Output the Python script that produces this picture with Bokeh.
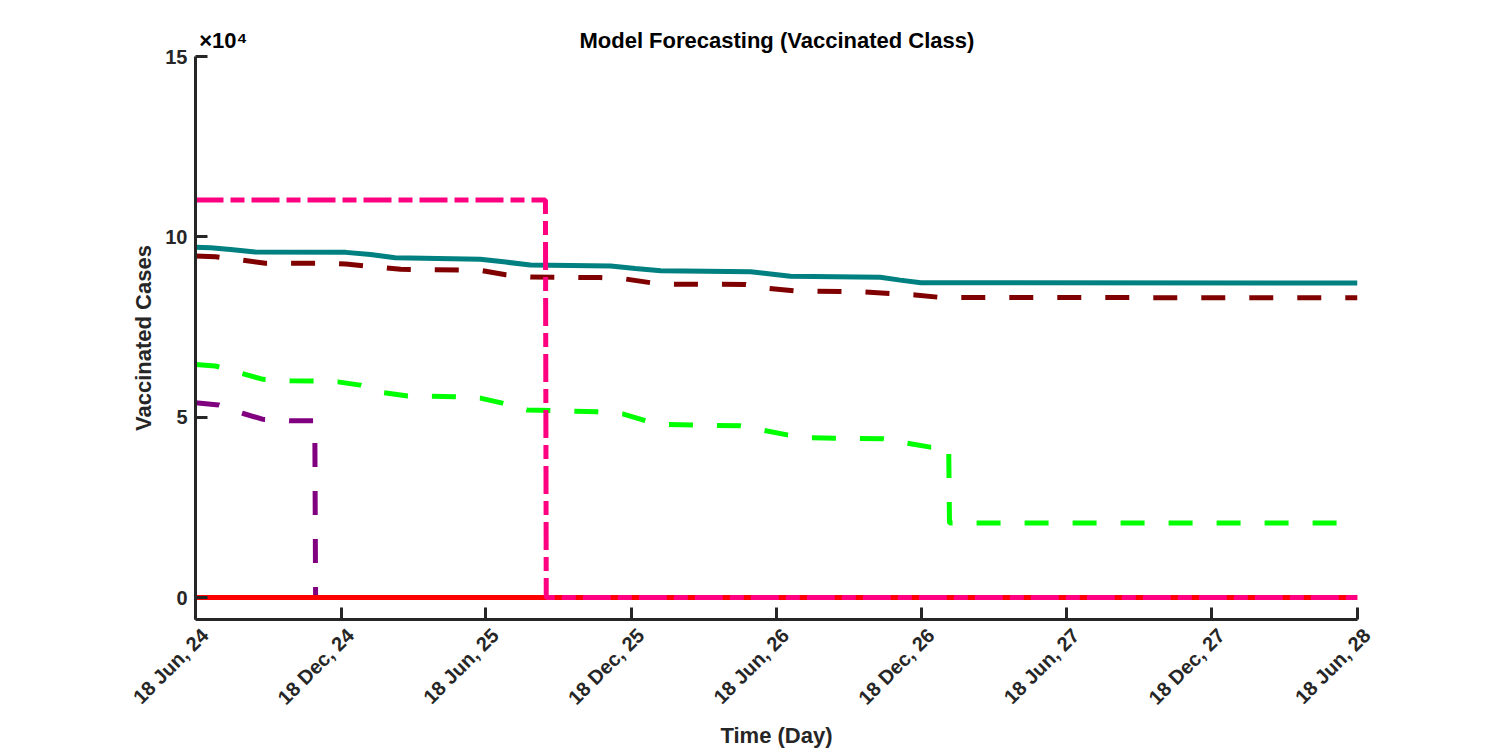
from math import pi
from bokeh.plotting import figure
from bokeh.models import Range1d, FixedTicker, LinearAxis
from bokeh.embed import file_html
from bokeh.resources import INLINE

# ---- data (x = days since 18 Jun 2024, y = cases) ----
tick_days = [0, 183, 365, 548, 730, 913, 1095, 1278, 1461]
tick_labels = ["18 Jun, 24", "18 Dec, 24", "18 Jun, 25", "18 Dec, 25", "18 Jun, 26",
               "18 Dec, 26", "18 Jun, 27", "18 Dec, 27", "18 Jun, 28"]
y_ticks = [0, 50000, 100000, 150000]
y_tick_labels = ["0", "5", "10", "15"]
title_text = "Model Forecasting (Vaccinated Class)"
exponent_text = "×10⁴"

teal_days = [0, 19, 44, 75, 189, 220, 251, 358, 390, 421, 522, 553, 585, 698, 723, 748, 861, 886, 912, 1461]
teal_vals = [97100, 97000, 96500, 95800, 95700, 95100, 94200, 93800, 93000, 92200, 91900, 91200,
             90600, 90300, 89700, 89100, 88800, 88000, 87300, 87200]

maroon_days = [0, 25, 57, 88, 157, 189, 220, 258, 333, 358, 390, 421, 509, 541, 572, 597, 692, 717,
               754, 836, 874, 905, 937, 1461]
maroon_vals = [94700, 94500, 93600, 92700, 92700, 92500, 91800, 91000, 90800, 90700, 89500, 88900,
               88700, 88300, 87300, 86900, 86800, 85800, 85000, 84800, 84300, 83900, 83200, 83100]

green_days = [0, 25, 57, 85, 119, 151, 179, 207, 236, 267, 327, 358, 386, 417, 505, 537, 566, 595,
              685, 714, 744, 774, 865, 895, 924, 947, 948, 1461]
green_vals = [64600, 64200, 62200, 60500, 60100, 60000, 59800, 58900, 56800, 55900, 55700, 55300,
              53900, 52000, 51500, 50900, 49000, 48000, 47600, 46400, 45100, 44300, 44000, 42800,
              41700, 41600, 20700, 20700]

purple_days = [0, 29, 59, 85, 118, 150, 151, 1461]
purple_vals = [54000, 53400, 51100, 49400, 49000, 49000, 0, 0]

red_days = [0, 1461]
red_vals = [0, 0]

pink_days = [0, 440, 441, 1461]
pink_vals = [110200, 110200, 0, 0]

FONT = "Liberation Sans"
AX = "#262626"

p = figure(width=1500, height=750, output_backend="svg", toolbar_location=None,
           x_range=Range1d(0, 1461), y_range=Range1d(-6080, 150000),
           min_border_left=195, min_border_right=143, min_border_top=56, min_border_bottom=130)
p.outline_line_color = None
p.xgrid.visible = False
p.ygrid.visible = False

lw = 5
p.line(teal_days, teal_vals, line_color="#008080", line_width=lw)
p.line(maroon_days, maroon_vals, line_color="#800000", line_width=lw, line_dash="24 24")
p.line(green_days, green_vals, line_color="#00FF00", line_width=lw, line_dash="24 24")
p.line(purple_days, purple_vals, line_color="#800080", line_width=lw, line_dash="24 24")
p.line(red_days, red_vals, line_color="#FF0000", line_width=lw)
p.line(pink_days, pink_vals, line_color="#FF0080", line_width=lw, line_dash="28 7 14 7")

for ax in (p.xaxis[0], p.yaxis[0]):
    ax.axis_line_color = AX
    ax.axis_line_width = 3
    ax.major_tick_line_color = AX
    ax.major_tick_line_width = 3
    ax.major_tick_in = 12
    ax.major_tick_out = 0
    ax.minor_tick_line_color = None
    ax.major_label_text_font = FONT
    ax.major_label_text_font_size = "20px"
    ax.major_label_text_font_style = "bold"
    ax.major_label_text_color = AX
    ax.axis_label_text_font = FONT
    ax.axis_label_text_font_size = "22px"
    ax.axis_label_text_font_style = "bold"
    ax.axis_label_text_color = AX

p.xaxis.ticker = FixedTicker(ticks=tick_days)
# leading blank line nudges each rotated label down and to the right of its tick
p.xaxis.major_label_overrides = {d: "\n" + s for d, s in zip(tick_days, tick_labels)}
p.xaxis.major_label_orientation = pi / 4
p.xaxis.major_label_standoff = 3
p.xaxis.axis_label = "Time (Day)"
p.xaxis.axis_label_standoff = -6

p.yaxis.ticker = FixedTicker(ticks=y_ticks)
p.yaxis.major_label_overrides = {v: s for v, s in zip(y_ticks, y_tick_labels)}
p.yaxis.major_label_standoff = 8
p.yaxis.axis_label = "Vaccinated Cases"
p.yaxis.axis_label_standoff = 6

# title and exponent marker drawn as labels of a bare axis above the frame
title_day = 731
exponent_day = 35
top = LinearAxis(ticker=FixedTicker(ticks=[exponent_day, title_day]),
                 major_label_overrides={exponent_day: exponent_text, title_day: title_text})
top.axis_line_color = None
top.major_tick_line_color = None
top.minor_tick_line_color = None
top.major_tick_in = 0
top.major_tick_out = 0
top.major_label_standoff = 4
top.major_label_text_font = FONT
top.major_label_text_font_size = "22px"
top.major_label_text_font_style = "bold"
top.major_label_text_color = "#000000"
p.add_layout(top, "above")

open("out.html", "w").write(file_html(p, INLINE))
